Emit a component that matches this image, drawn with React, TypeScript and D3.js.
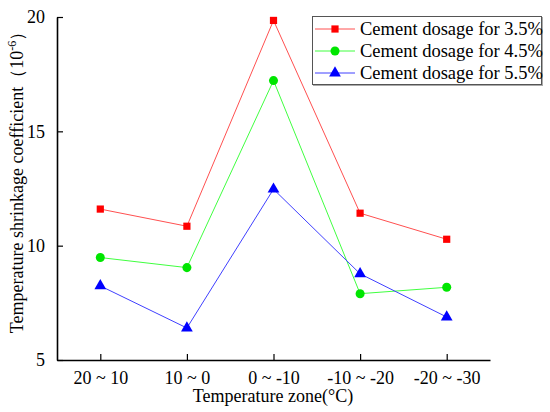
import * as d3 from 'd3'
import { useEffect, useRef } from 'react'

const zones = ['20 ~ 10', '10 ~ 0', '0 ~ -10', '-10 ~ -20', '-20 ~ -30']
const dosage35 = [11.6, 10.85, 19.85, 11.42, 10.28]
const dosage45 = [9.48, 9.04, 17.22, 7.9, 8.18]
const dosage55 = [8.24, 6.4, 12.47, 8.77, 6.88]
const yTicks = [5, 10, 15, 20]

const series = [
  { name: 'Cement dosage for 3.5%', values: dosage35, color: '#ff0000', line: '#ff5050', shape: 'square' },
  { name: 'Cement dosage for 4.5%', values: dosage45, color: '#00e600', line: '#40ff40', shape: 'circle' },
  { name: 'Cement dosage for 5.5%', values: dosage55, color: '#0000ff', line: '#4040ff', shape: 'triangle' },
]

const width = 550
const height = 412
const marginLeft = 57
const marginRight = 60
const marginTop = 17
const marginBottom = 52
const serif = 'Liberation Serif'

const symbolFor = (shape: string) =>
  shape === 'square' ? d3.symbolSquare : shape === 'circle' ? d3.symbolCircle : d3.symbolTriangle
const sizeFor = (shape: string) => (shape === 'square' ? 52 : shape === 'circle' ? 64 : 60)

export default function App() {
  const x = d3.scalePoint(zones, [marginLeft, width - marginRight]).padding(0.5)
  const y = d3.scaleLinear([5, 20], [height - marginBottom, marginTop])

  const gx = useRef<SVGGElement>(null)
  const gy = useRef<SVGGElement>(null)

  useEffect(() => {
    const g = d3.select(gx.current)
    g.call(d3.axisBottom(x).tickSizeInner(-6).tickSizeOuter(0).tickPadding(11))
    g.attr('font-family', serif).attr('font-size', 18)
    g.select('.domain').attr('stroke-width', 1.6)
    g.selectAll('.tick line').attr('stroke-width', 1.2)
  }, [])

  useEffect(() => {
    const g = d3.select(gy.current)
    g.call(d3.axisLeft(y).tickValues(yTicks).tickSizeInner(-6).tickSizeOuter(0).tickPadding(12))
    g.attr('font-family', serif).attr('font-size', 18)
    g.select('.domain').attr('stroke-width', 1.6)
    g.selectAll('.tick line').attr('stroke-width', 1.2)
  }, [])

  const line = d3
    .line<number>()
    .x((_, i) => x(zones[i]) as number)
    .y((d) => y(d))

  return (
    <svg width={width} height={height} style={{ position: 'absolute', left: 0, top: 0 }} fontFamily={serif}>
      <rect width={width} height={height} fill="white" />
      <g ref={gx} transform={`translate(0,${height - marginBottom})`} />
      <g ref={gy} transform={`translate(${marginLeft},0)`} />
      {series.map((s) => (
        <g key={s.name}>
          <path d={line(s.values) ?? ''} fill="none" stroke={s.line} strokeWidth={1} />
          {s.values.map((v, i) => (
            <path
              key={i}
              transform={`translate(${x(zones[i])},${y(v)})`}
              d={d3.symbol(symbolFor(s.shape), sizeFor(s.shape))() ?? ''}
              fill={s.color}
            />
          ))}
        </g>
      ))}
      <text x={273} y={402} textAnchor="middle" fontSize={18}>
        Temperature zone(°C)
      </text>
      <text transform="translate(23,178) rotate(-90)" textAnchor="middle" fontSize={18}>
        Temperature shrinkage coefficient（10<tspan dy={-7} fontSize={12}>-6</tspan>
        <tspan dy={7}>）</tspan>
      </text>
      <g transform="translate(312,16)">
        <rect x={0.5} y={0.5} width={229} height={68} fill="white" stroke="#555" strokeWidth={1} />
        <line x1={1} y1={69.5} x2={230} y2={69.5} stroke="#aaa" />
        <line x1={230.5} y1={1} x2={230.5} y2={70} stroke="#aaa" />
        {series.map((s, i) => (
          <g key={s.name} transform={`translate(0,${13 + i * 22})`}>
            <line x1={3} x2={43} stroke={s.line} strokeWidth={1} />
            <path
              transform="translate(23,0)"
              d={d3.symbol(symbolFor(s.shape), sizeFor(s.shape))() ?? ''}
              fill={s.color}
            />
            <text x={48} y={6} fontSize={18.5}>
              {s.name}
            </text>
          </g>
        ))}
      </g>
    </svg>
  )
}
